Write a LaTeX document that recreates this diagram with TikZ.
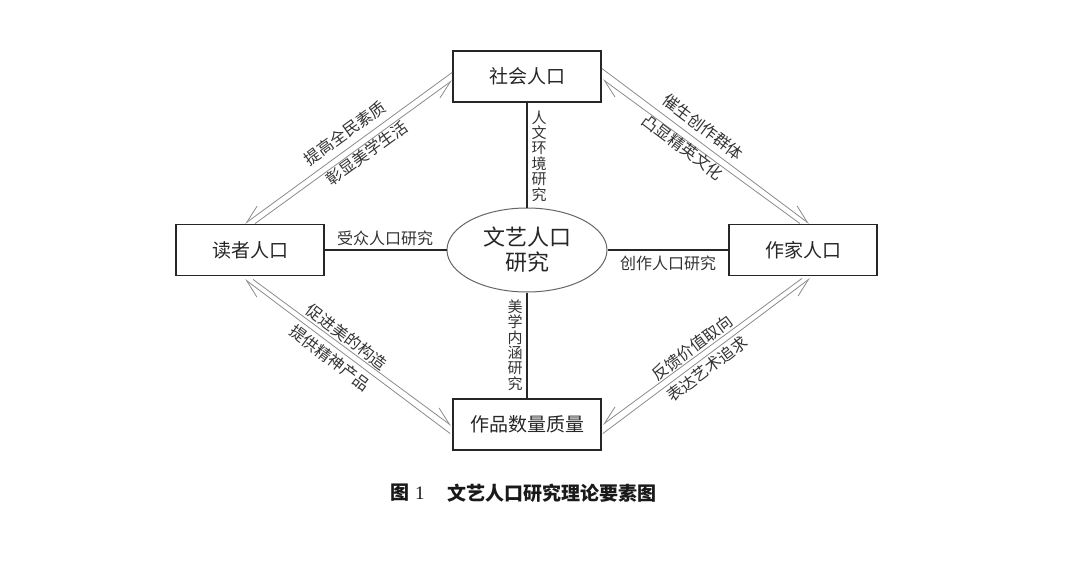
\documentclass[tikz,border=0pt]{standalone}
\usepackage{fontspec}
\newfontfamily\cjk{Noto Sans CJK SC}
\newfontfamily\serifnum{Liberation Serif}
\usetikzlibrary{arrows.meta,shapes.geometric,calc}
\begin{document}
\begin{tikzpicture}[x=1pt,y=-1pt,
  box/.style={draw=black!85,line width=1.8pt,minimum width=148pt,minimum height=51pt,inner sep=0pt,
    font=\cjk\fontsize{19}{19}\selectfont,text=black!85},
  core/.style={ellipse,draw=black!60,line width=1pt,minimum width=160pt,minimum height=84pt,inner sep=0pt,
    align=center,font=\cjk\fontsize{22}{25}\selectfont,text=black!85},
  conn/.style={draw=black!85,line width=1.6pt},
  diag/.style={draw=black!45,line width=0.8pt},
  hr/.style={diag,-{Straight Barb[right,length=18pt,width=14pt]}},
  hl/.style={diag,-{Straight Barb[left,length=18pt,width=14pt]}},
  lab/.style={font=\cjk\fontsize{16}{16}\selectfont,text=black!80,inner sep=0pt},
  vlab/.style={font=\cjk\fontsize{15}{15.4}\selectfont,text=black!80,inner sep=0pt,align=center},
  captxt/.style={font=\cjk\bfseries\fontsize{19}{19}\selectfont,text=black!90,inner sep=0pt}
]
\useasboundingbox[fill=white] (0,0) rectangle (1080,562);

\node[box] (soc) at (527,76.5) {社会人口};
\node[box] (read) at (250,250) {读者人口};
\node[box] (auth) at (803,250) {作家人口};
\node[box] (work) at (527,424.5) {作品数量质量};
\node[core] (core) at (527,250) {文艺人口\\研究};

% straight connectors
\draw[conn] (soc) -- (core);
\draw[conn] (core) -- (work);
\draw[conn] (read) -- (core);
\draw[conn] (core) -- (auth);

\node[vlab] (l1) at (539,156) {人\\文\\环\\境\\研\\究};
\node[vlab] (l2) at (515,345) {美\\学\\内\\涵\\研\\究};
\node[lab] (l3) at (385,238) {受众人口研究};
\node[lab] (l4) at (668,263) {创作人口研究};

% top-left pair
\draw[hr] ($(soc.west)+(0,-4)$) -- ($(read.north)+(-5,0)$);
\draw[hr] ($(read.north)+(5,0)$) -- ($(soc.west)+(0,4)$);
% top-right pair
\draw[hl] ($(soc.east)+(0,-8)$) -- ($(auth.north)+(6,0)$);
\draw[hl] ($(auth.north)+(-3,0)$) -- ($(soc.east)+(1,3)$);
% bottom-left pair
\draw[hl] ($(work.west)+(-2,9)$) -- ($(read.south)+(-5,3)$);
\draw[hl] ($(read.south)+(3,3)$) -- ($(work.west)+(-1,1)$);
% bottom-right pair
\draw[hr] ($(work.east)+(1,9)$) -- ($(auth.south)+(7,2)$);
\draw[hr] ($(auth.south)+(-1,2)$) -- ($(work.east)+(1,0)$);

\node[lab,rotate=36] (d1) at (345,133) {提高全民素质};
\node[lab,rotate=36] (d2) at (367,153) {彰显美学生活};
\node[lab,rotate=-37] (d3) at (703,127) {催生创作群体};
\node[lab,rotate=-37] (d4) at (683,147) {凸显精英文化};
\node[lab,rotate=-37] (d5) at (347,337) {促进美的构造};
\node[lab,rotate=-37] (d6) at (330,358) {提供精神产品};
\node[lab,rotate=37] (d7) at (692,348) {反馈价值取向};
\node[lab,rotate=37] (d8) at (707,369) {表达艺术追求};

\node[captxt,anchor=west] (c1) at (390,493) {图\hspace{6pt}{\serifnum\mdseries 1}};
\node[captxt,anchor=west] (c2) at (447,493) {文艺人口研究理论要素图};
\end{tikzpicture}
\end{document}
